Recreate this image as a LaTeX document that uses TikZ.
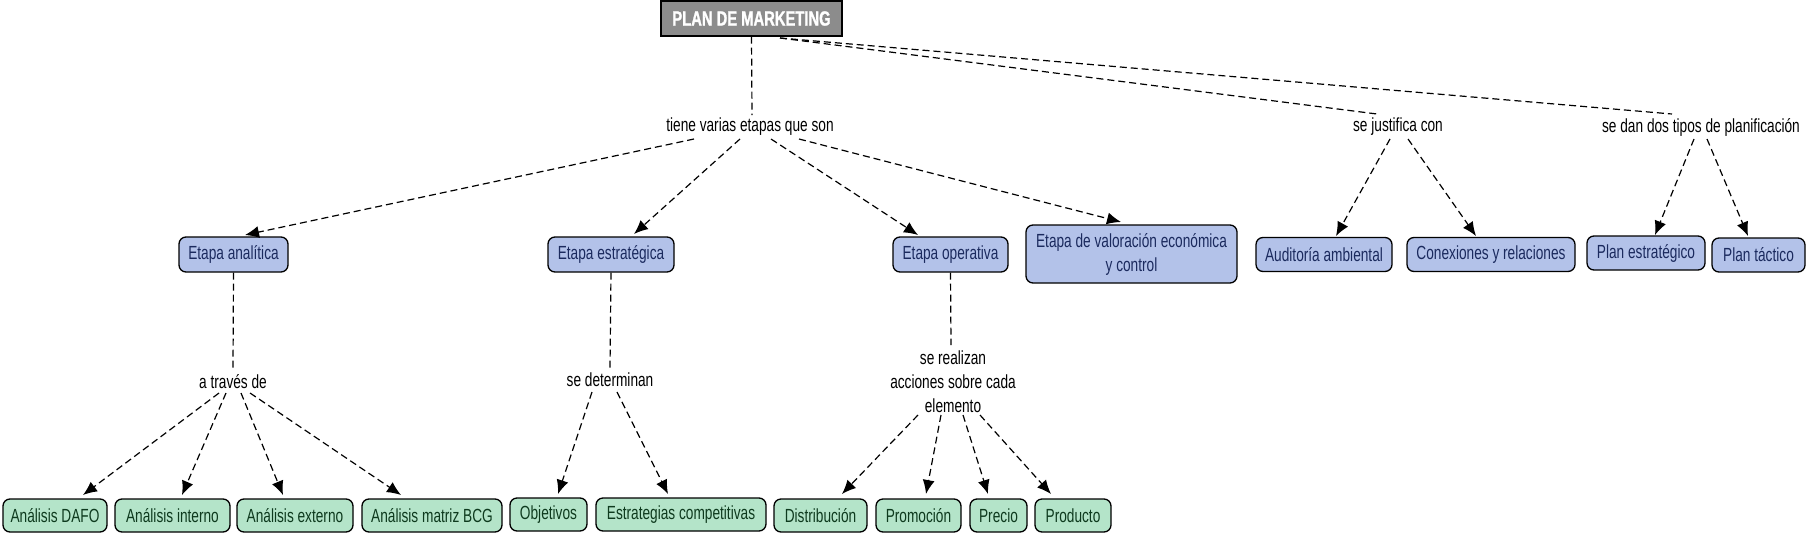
\documentclass[tikz,border=0pt]{standalone}
\usepackage{fontspec}
\setmainfont[FakeStretch=0.72]{Liberation Sans}
\newfontfamily\titlefont[FakeStretch=0.72,BoldFeatures={FakeBold=1.2}]{Liberation Sans}
\usetikzlibrary{arrows.meta,calc}
\definecolor{bfill}{HTML}{B3C2E9}
\definecolor{btext}{HTML}{1B2A5E}
\definecolor{gfill}{HTML}{B4E4C9}
\definecolor{gtext}{HTML}{0E3A1E}
\definecolor{tfill}{HTML}{8C8C8C}
\tikzset{
  box/.style={draw=black, line width=1.3pt, rounded corners=7pt, inner sep=0pt, align=center, font=\fontsize{19}{24}\selectfont},
  bbox/.style={box, fill=bfill, text=btext},
  gbox/.style={box, fill=gfill, text=gtext, minimum height=33pt},
  titlebox/.style={draw=black, line width=1.3pt, fill=tfill, text=white, inner sep=0pt, font=\titlefont\bfseries\fontsize{20.5}{22}\selectfont},
  lbl/.style={font=\fontsize{19}{24}\selectfont, align=center, inner sep=0pt, text=black},
  conn/.style={line width=1.2pt, dash pattern=on 7pt off 4pt},
  arr/.style={conn, -{Latex[length=14pt,width=12pt]}}
}
\begin{document}
\begin{tikzpicture}[x=1pt,y=-1pt]
\useasboundingbox[fill=white] (0,0) rectangle (1807,536);
% title
\node[titlebox, minimum width=181pt, minimum height=35pt] (plan) at (751.5,18.5) {PLAN DE MARKETING};
% linking labels
\node[lbl] (tiene) at (750,127) {tiene varias etapas que son};
\node[lbl] (just) at (1398,127) {se justifica con};
\node[lbl] (dan) at (1701,127) {se dan dos tipos de planificación};
\node[lbl] (traves) at (233,382) {a través de};
\node[lbl] (determ) at (610,380) {se determinan};
\node[lbl] (realiz) at (953,382) {se realizan\\acciones sobre cada\\elemento};
% blue concepts
\node[bbox, minimum width=109pt, minimum height=35pt] (ana) at (233.5,254.5) {Etapa analítica};
\node[bbox, minimum width=126pt, minimum height=35pt] (est) at (611,254.5) {Etapa estratégica};
\node[bbox, minimum width=115pt, minimum height=35pt] (ope) at (950.5,254.5) {Etapa operativa};
\node[bbox, minimum width=211pt, minimum height=58pt] (val) at (1131.5,254) {Etapa de valoración económica\\y control};
\node[bbox, minimum width=136pt, minimum height=34pt] (aud) at (1324,254.5) {Auditoría ambiental};
\node[bbox, minimum width=168pt, minimum height=34pt] (con) at (1491,254.5) {Conexiones y relaciones};
\node[bbox, minimum width=118pt, minimum height=34pt] (ples) at (1646,253) {Plan estratégico};
\node[bbox, minimum width=93pt, minimum height=34pt] (plt) at (1758.5,255) {Plan táctico};
% green concepts
\node[gbox, minimum width=104pt] (dafo) at (55,515.5) {Análisis DAFO};
\node[gbox, minimum width=115pt] (int) at (172.5,515.5) {Análisis interno};
\node[gbox, minimum width=116pt] (ext) at (295,515.5) {Análisis externo};
\node[gbox, minimum width=140pt] (bcg) at (432,515.5) {Análisis matriz BCG};
\node[gbox, minimum width=77pt] (obj) at (548.5,514.5) {Objetivos};
\node[gbox, minimum width=170pt] (estc) at (681,514.5) {Estrategias competitivas};
\node[gbox, minimum width=93pt] (dist) at (820.5,515.5) {Distribución};
\node[gbox, minimum width=85pt] (prom) at (918.5,515.5) {Promoción};
\node[gbox, minimum width=57pt] (prec) at (998.5,515.5) {Precio};
\node[gbox, minimum width=76pt] (prod) at (1073,515.5) {Producto};
% connectors from title
\draw[conn] (plan.south) -- ($(tiene)+(2,-12)$);
\draw[conn] ($(plan)+(28.5,19.5)$) -- ($(just)+(-21,-13)$);
\draw[conn] ($(plan)+(28.5,19.5)$) -- ($(dan)+(-29,-13)$);
% tiene varias etapas
\draw[arr] ($(tiene)+(-56,12)$) -- ($(ana)+(11.5,-19.5)$);
\draw[arr] ($(tiene)+(-10,12)$) -- ($(est)+(23,-20.5)$);
\draw[arr] ($(tiene)+(21,12)$) -- ($(ope)+(-32.5,-19.5)$);
\draw[arr] ($(tiene)+(49,12)$) -- ($(val)+(-10.5,-32)$);
% se justifica con
\draw[arr] ($(just)+(-8,12)$) -- ($(aud)+(12,-18.5)$);
\draw[arr] ($(just)+(10,12)$) -- ($(con)+(-15,-18.5)$);
% se dan dos tipos
\draw[arr] ($(dan)+(-7,12)$) -- ($(ples)+(9,-18)$);
\draw[arr] ($(dan)+(6,12)$) -- ($(plt)+(-10.5,-19)$);
% stages to labels
\draw[conn] (ana.south) -- ($(traves)+(0,-13)$);
\draw[conn] (est.south) -- ($(determ)+(0,-12)$);
\draw[conn] (ope.south) -- ($(realiz)+(-2,-37)$);
% a traves de
\draw[arr] ($(traves)+(-14,11)$) -- ($(dafo)+(28,-20.5)$);
\draw[arr] ($(traves)+(-7,11)$) -- ($(int)+(9.5,-20.5)$);
\draw[arr] ($(traves)+(8,11)$) -- ($(ext)+(-12,-20.5)$);
\draw[arr] ($(traves)+(17,11)$) -- ($(bcg)+(-31,-20.5)$);
% se determinan
\draw[arr] ($(determ)+(-18,12)$) -- ($(obj)+(9.5,-20.5)$);
\draw[arr] ($(determ)+(7,12)$) -- ($(estc)+(-13,-20.5)$);
% se realizan
\draw[arr] ($(realiz)+(-35,33)$) -- ($(dist)+(21.5,-21.5)$);
\draw[arr] ($(realiz)+(-12,33)$) -- ($(prom)+(7.5,-21.5)$);
\draw[arr] ($(realiz)+(10,33)$) -- ($(prec)+(-10.5,-21.5)$);
\draw[arr] ($(realiz)+(27,33)$) -- ($(prod)+(-22,-21.5)$);
\end{tikzpicture}
\end{document}
